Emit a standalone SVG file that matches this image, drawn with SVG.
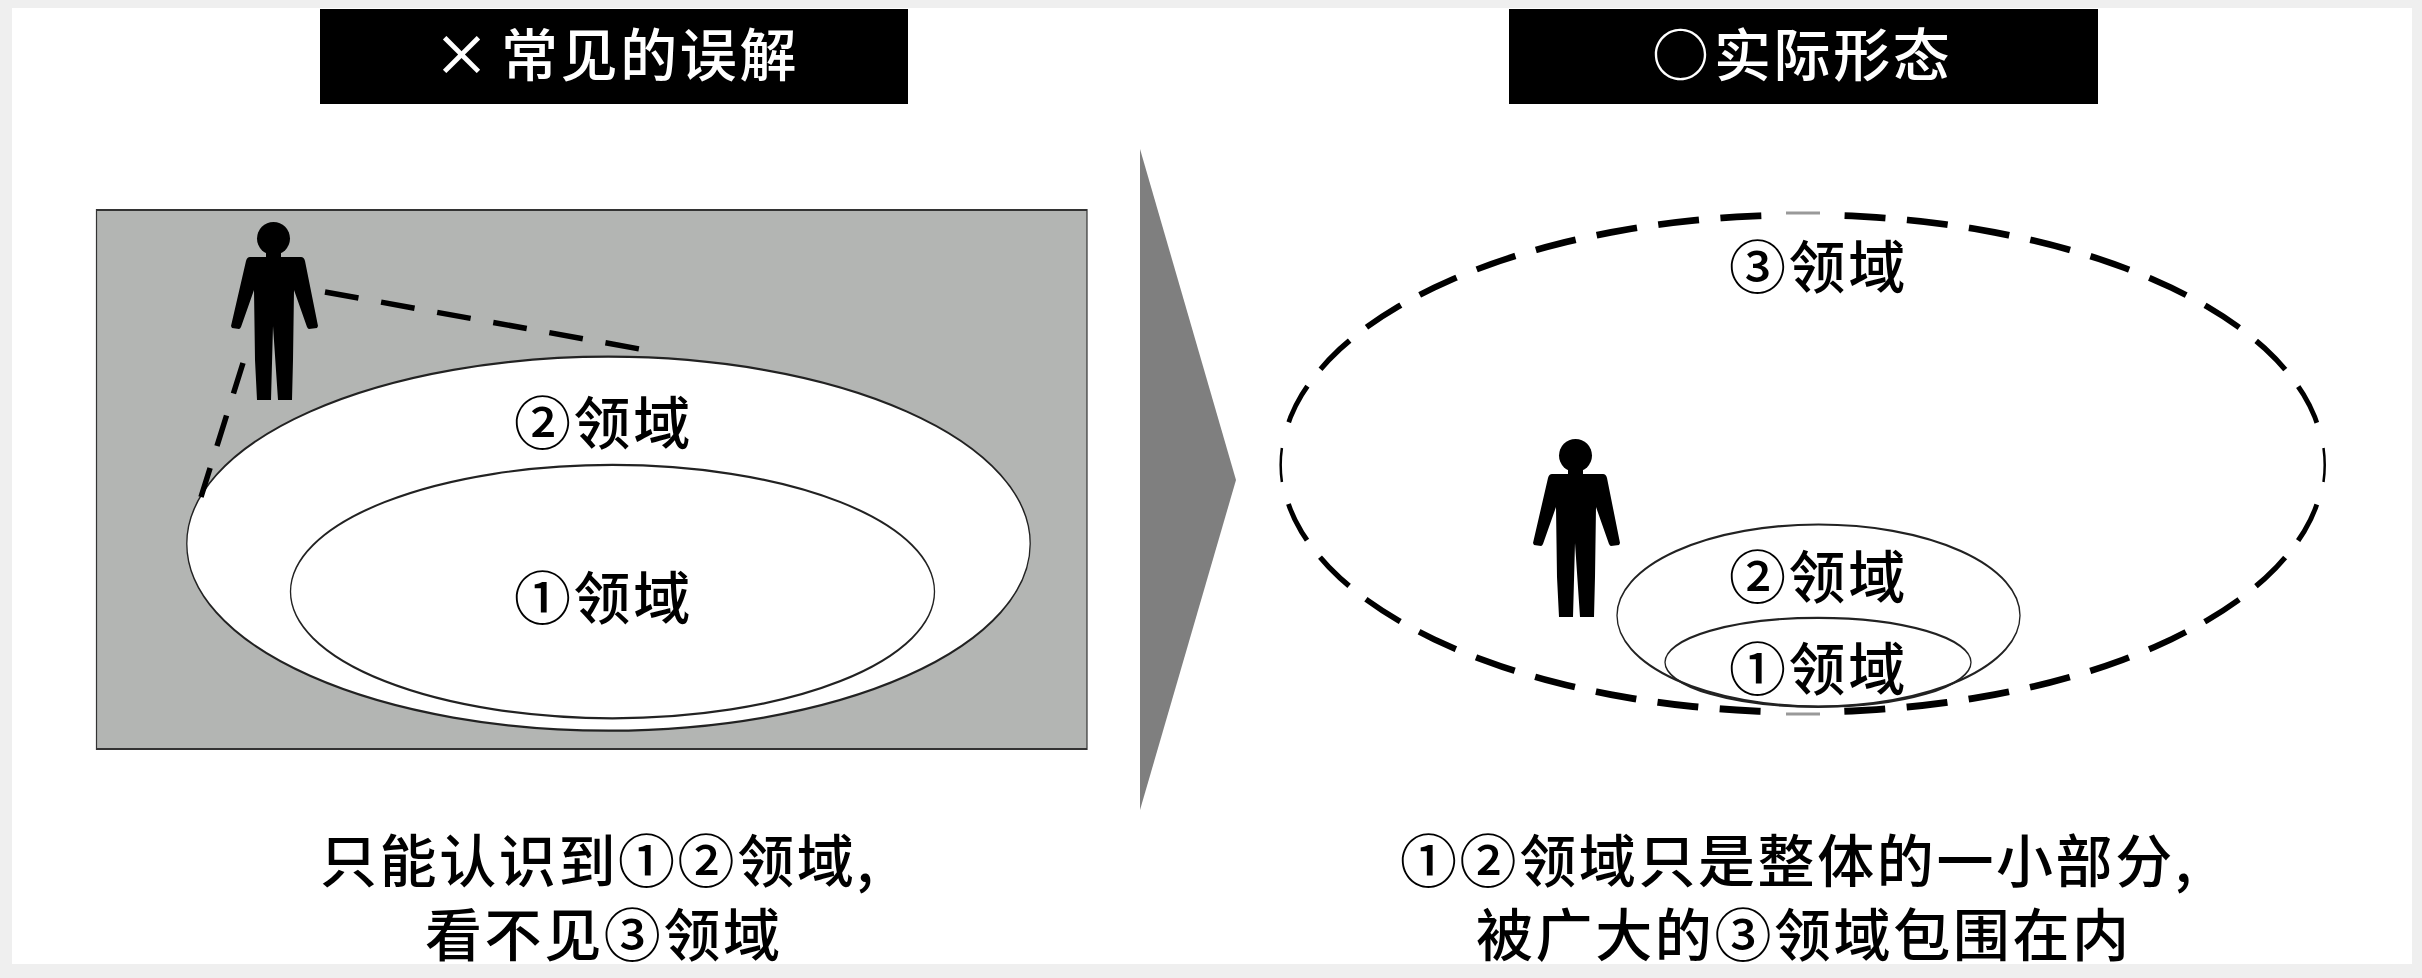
<svg xmlns="http://www.w3.org/2000/svg" xmlns:xlink="http://www.w3.org/1999/xlink" width="2422" height="978" viewBox="0 0 2422 978">
<style>
text{font-family:"Noto Sans CJK SC","Noto Sans",sans-serif;font-size:57px;font-weight:500;fill:#000;letter-spacing:2.6px}
.t{fill:#fff}
.e{fill:#fff;stroke:#222;stroke-width:2.2}
.r{fill:none;stroke:#222;stroke-width:2.2}
.d{fill:none;stroke:#000;stroke-width:5.5}
.band{fill:#efefef}
.faint{fill:none;stroke:#999;stroke-width:3}
.thin{fill:none;stroke:#000;stroke-width:2.500}
</style>
<defs>
<g id="person"><ellipse cx="273.500" cy="238.500" rx="16.500" ry="16.500"/><path d="M266 252H281V257H301Q304 257 305 261L318 326L317 328L309 329Q308 329 307 327L294 290L293 360L292 400H278L273 326L271 400H257L255 360L254 290L241 327Q240 329 239 329L232 328L231 326L246 261Q247 257 250 257H266Z"/></g>
<mask id="dash-mask" maskUnits="userSpaceOnUse" x="0" y="0" width="2422" height="978">
<path fill="none" stroke="#fff" stroke-width="22" stroke-dasharray="41 21.470" stroke-dashoffset="20.500" d="M1802.700 214.500A522 249 0 1 1 1802.700 712.500A522 249 0 1 1 1802.700 214.500"/>
<rect x="1775" y="200" width="55" height="30" fill="#000"/>
<rect x="1775" y="697" width="55" height="30" fill="#000"/>
<rect x="1268" y="440" width="30" height="50" fill="#000"/>
<rect x="2308" y="440" width="30" height="50" fill="#000"/>
</mask>
</defs>
<rect class="band" x="0" y="0" width="2422" height="978"/>
<rect x="12" y="8" width="2400" height="956" fill="#fff"/>
<g id="title-left"><rect x="320" y="9" width="588" height="95" fill="#000"/><text class="t" x="433" y="76">× <tspan x="501">常见的误解</tspan></text></g>
<g id="title-right"><rect x="1509" y="9" width="589" height="95" fill="#000"/><text class="t" x="1652" y="76">○<tspan x="1714">实际形态</tspan></text></g>
<g id="panel-left">
<rect transform="scale(.6 1)" x="160.830" y="210" width="1650.830" height="539" fill="#b3b5b3" stroke="#333" stroke-width="2"/>
<ellipse class="e" transform="translate(608.500 543.700) scale(.6 1)" rx="702.830" ry="187"/>
<ellipse class="e" transform="translate(612.500 591.600) scale(.6 1)" rx="536.670" ry="126.700"/>
<use xlink:href="#person" href="#person"/>
</g>
<g id="connectors">
<path class="d" stroke-dasharray="34 23" d="M325 292L645 350"/>
<path class="d" stroke-dasharray="32 23" d="M243 363L201 497"/>
</g>
<g id="arrow"><path d="M1140 149L1236 480L1140 810Z" fill="#7f7f7f"/></g>
<g id="panel-right">
<path id="outer-ring" mask="url(#dash-mask)" fill-rule="evenodd" stroke="#000" stroke-width="4.200" d="M1281.200 463.500A521.500 250 0 0 1 2324.200 463.500A521.500 250 0 0 1 1281.200 463.500ZM1281.700 463.500A521 247.400 0 0 0 2323.700 463.500A521 247.400 0 0 0 1281.700 463.500Z"/>
<path class="faint" d="M1786 213H1820M1786 714H1820"/>
<path class="thin" d="M1281.900 448A522 248.700 0 0 0 1281.900 482M2323.500 448A522 248.700 0 0 1 2323.500 482"/>
<use xlink:href="#person" href="#person" x="1302" y="217"/>
<ellipse class="r" transform="translate(1818.500 615.500) scale(.6 1)" rx="335.830" ry="91"/>
<ellipse class="r" transform="translate(1818 662.300) scale(.6 1)" rx="255" ry="44.500"/>
</g>
<g id="labels">
<text x="514" y="444">②领域</text>
<text x="514" y="619">①领域</text>
<text x="1729" y="288">③领域</text>
<text x="1729" y="598">②领域</text>
<text x="1729" y="690">①领域</text>
</g>
<g id="caption-left">
<text x="320" y="882">只能认识到①②领域,</text>
<text x="425" y="956">看不见③领域</text>
</g>
<g id="caption-right">
<text x="1400" y="882">①②领域只是整体的一小部分,</text>
<text x="1476" y="956">被广大的③领域包围在内</text>
</g>
<rect class="band" x="0" y="964" width="2422" height="14"/>
</svg>
